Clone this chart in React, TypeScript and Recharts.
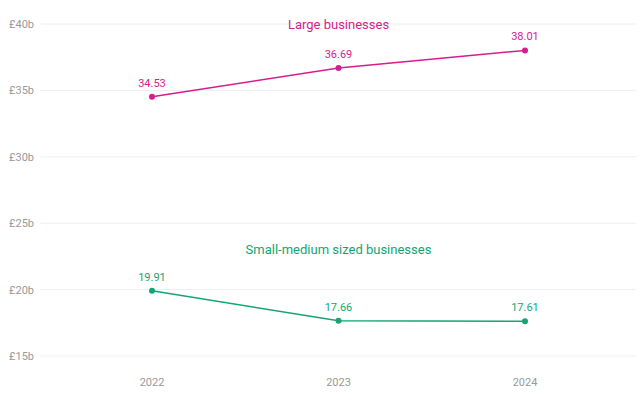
import React from "react";
import {
  LineChart,
  Line,
  XAxis,
  YAxis,
  CartesianGrid,
  LabelList,
  ReferenceDot,
} from "recharts";

const years = ["2022", "2023", "2024"];
const largeValues = [34.53, 36.69, 38.01];
const smallValues = [19.91, 17.66, 17.61];
const yTicks = [15, 20, 25, 30, 35, 40];

// where the series names sit, in data coordinates
const seriesNames = ["Large businesses", "Small-medium sized businesses"];
const seriesNameY = [40, 23];

const PINK = "#d81b8f";
const GREEN = "#12a673";
const FONT = "Roboto, 'Noto Sans', sans-serif";

const data = years.map((year, i) => ({
  year,
  large: largeValues[i],
  small: smallValues[i],
}));

const seriesColors = [PINK, GREEN];

const App: React.FC = () => {
  const tickStyle = { fontSize: 11, fill: "#999", fontFamily: FONT };

  return (
    <div style={{ position: "absolute", left: 0, top: 0 }}>
      <LineChart
        width={640}
        height={401}
        data={data}
        margin={{ top: 24, right: 4, left: 0, bottom: 15 }}
      >
        <CartesianGrid vertical={false} stroke="#eeeeee" />
        <XAxis
          dataKey="year"
          scale="point"
          padding={{ left: 112, right: 111 }}
          axisLine={false}
          tickLine={false}
          tickSize={0}
          tickMargin={22}
          tick={tickStyle}
        />
        <YAxis
          domain={[15, 40]}
          ticks={yTicks}
          width={40}
          axisLine={false}
          tickLine={false}
          tickSize={0}
          tickMargin={6}
          tick={tickStyle}
          tickFormatter={(v) => `£${v}b`}
        />
        <Line
          type="linear"
          dataKey="large"
          stroke={PINK}
          strokeWidth={1.5}
          dot={{ r: 3, fill: PINK, stroke: PINK, strokeWidth: 0 }}
          activeDot={false}
          isAnimationActive={false}
        >
          <LabelList
            dataKey="large"
            position="top"
            offset={10}
            style={{ fontSize: 11, fill: PINK, fontFamily: FONT }}
          />
        </Line>
        <Line
          type="linear"
          dataKey="small"
          stroke={GREEN}
          strokeWidth={1.5}
          dot={{ r: 3, fill: GREEN, stroke: GREEN, strokeWidth: 0 }}
          activeDot={false}
          isAnimationActive={false}
        >
          <LabelList
            dataKey="small"
            position="top"
            offset={10}
            style={{ fontSize: 11, fill: GREEN, fontFamily: FONT }}
          />
        </Line>
        {seriesNames.map((name, i) => (
          <ReferenceDot
            key={name}
            x={years[1]}
            y={seriesNameY[i]}
            r={0}
            stroke="none"
            fill="none"
            label={{
              value: name,
              position: "center",
              fill: seriesColors[i],
              fontSize: 13,
              fontFamily: FONT,
            }}
          />
        ))}
      </LineChart>
    </div>
  );
};

export default App;
